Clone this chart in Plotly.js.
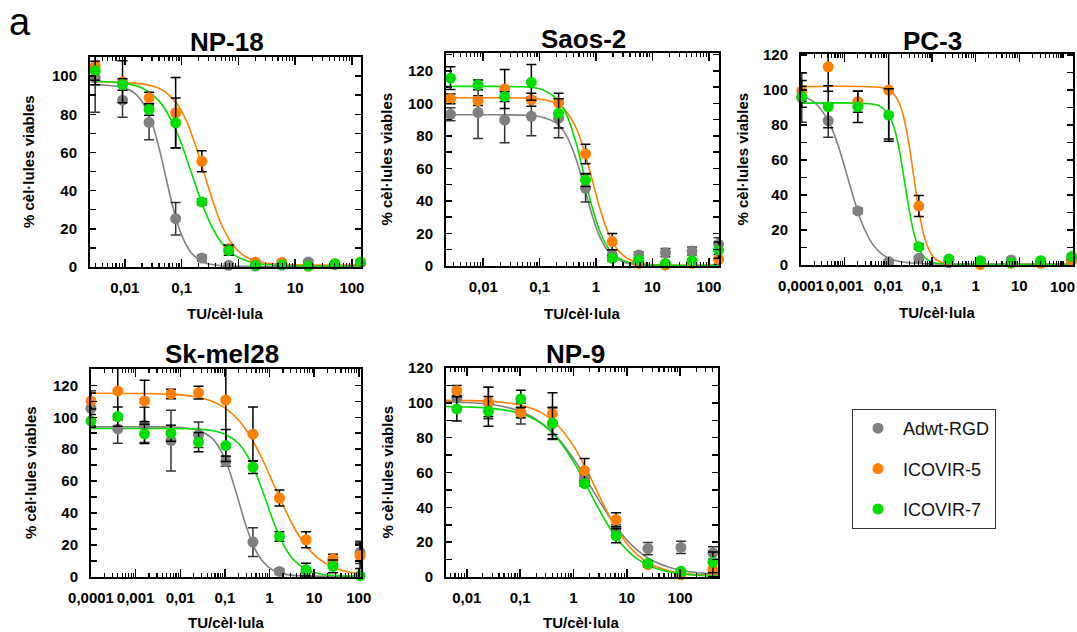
<!DOCTYPE html>
<html><head><meta charset="utf-8">
<script src="https://cdn.plot.ly/plotly-3.0.1.min.js"></script>
<style>html,body{margin:0;padding:0;background:#fff}#chart{width:1077px;height:632px}</style>
</head><body><div id="chart"></div>
<script>
// ---------- DATA ----------
const SERIES = ['Adwt-RGD', 'ICOVIR-5', 'ICOVIR-7'];

// NP-18
const NP18_x = [0.003, 0.0091, 0.0267, 0.0785, 0.227, 0.676, 1.99, 5.83, 17.1, 50.2, 142];
const NP18_gray = [99.1, 87.4, 75.7, 25.3, 4.7, 0.9, 0.5, 1.0, 2.6, 1.2, 2.0];
const NP18_grayErr = [18, 9, 9, 8.5, 1.5, 1, 0.5, 0.5, 1, 0.5, 1];
const NP18_orange = [105.4, 97.0, 88.6, 80.8, 55.4, 9.6, 2.6, 2.4, 0.5, 1.7, 2.3];
const NP18_orangeErr = [10, 11, 3, 18.5, 5.5, 2, 1, 1, 0.5, 0.5, 1];
const NP18_green = [102.8, 95.6, 82.5, 75.5, 34.1, 8.7, 0.9, 1.2, 0.5, 1.7, 2.6];
const NP18_greenErr = [5, 3, 3, 13, 1.5, 2.5, 0.5, 0.5, 0.5, 0.5, 1];
const NP18_fitGrayX = [0.0025, 0.005, 0.01, 0.015, 0.02, 0.03, 0.04, 0.052, 0.07, 0.1, 0.15, 0.25, 0.5, 1, 3, 142];
const NP18_fitGray = [95.5, 95.2, 93.7, 91.0, 86.8, 75.4, 62.4, 47.9, 31.6, 16.7, 7.2, 2.4, 0.7, 0.4, 0.3, 0.3];
const NP18_fitOrangeX = [0.0025, 0.01, 0.03, 0.05, 0.08, 0.12, 0.18, 0.25, 0.35, 0.5, 0.8, 1.2, 2, 4, 10, 142];
const NP18_fitOrange = [97, 96.7, 94.9, 92.0, 86.0, 76.8, 62.8, 49, 34.9, 22.4, 11.5, 6.4, 3.2, 1.65, 1.1, 1.0];
const NP18_fitGreenX = [0.0025, 0.01, 0.02, 0.04, 0.07, 0.1, 0.15, 0.22, 0.33, 0.5, 0.8, 1.3, 2.5, 6, 142];
const NP18_fitGreen = [97.4, 96.2, 93.8, 87.0, 75.3, 64.2, 49, 34.6, 21.9, 12.8, 6.7, 3.5, 1.57, 0.76, 0.5];

// Saos-2
const SAOS_x = [0.00263, 0.0081, 0.024, 0.0713, 0.217, 0.652, 1.94, 5.72, 17.0, 50.4, 149];
const SAOS_gray = [93.3, 94.4, 89.8, 92.1, 90.9, 47.8, 6.8, 6.8, 8.2, 9.2, 13.3];
const SAOS_grayErr = [4, 16, 14, 12, 12, 8.5, 3, 2, 2.5, 2.5, 4];
const SAOS_orange = [102.8, 101.7, 108.9, 102.2, 100.3, 68.9, 15, 1.6, 0.6, 1.6, 4.1];
const SAOS_orangeErr = [3, 3, 12, 4, 6, 6, 5, 1, 1, 1, 3];
const SAOS_green = [115.5, 111.4, 104.2, 113, 93.9, 52.9, 4.7, 3.7, 1.6, 3.3, 9.8];
const SAOS_greenErr = [7, 3, 3, 11, 9, 4, 1.5, 1, 1, 1, 5];
const SAOS_fitGrayX = [0.0022, 0.01, 0.05, 0.1, 0.2, 0.3, 0.45, 0.64, 0.85, 1.2, 1.8, 3, 6, 15, 149];
const SAOS_fitGray = [93, 93, 92.8, 91.9, 87.7, 80.0, 65.1, 46.6, 31.3, 17.0, 7.4, 2.4, 0.6, 0.25, 0.2];
const SAOS_fitOrangeX = [0.0022, 0.01, 0.05, 0.1, 0.2, 0.3, 0.45, 0.65, 0.87, 1.2, 1.7, 2.5, 4, 7, 15, 149];
const SAOS_fitOrange = [103.5, 103.5, 103.3, 102.7, 99.9, 94.9, 84.4, 68.3, 52, 34.2, 19.2, 9.3, 3.8, 1.4, 0.6, 0.5];
const SAOS_fitGreenX = [0.0022, 0.01, 0.05, 0.1, 0.2, 0.3, 0.45, 0.62, 0.85, 1.2, 1.8, 3, 6, 15, 149];
const SAOS_fitGreen = [110.5, 110.5, 110.2, 109.0, 102.9, 93.1, 74.9, 55.5, 36.3, 20.3, 9.2, 3.4, 1.1, 0.5, 0.5];

// PC-3
const PC3_x = [1.04e-4, 4.2e-4, 2.0e-3, 0.0102, 0.050, 0.244, 1.28, 6.5, 31, 159];
const PC3_gray = [95.6, 82.5, 30.9, 1.9, 3.8, 1.3, 1.9, 2.9, 1.9, 2.9];
const PC3_grayErr = [14, 9.5, 1.5, 1, 1, 0.5, 0.5, 1, 0.5, 1];
const PC3_orange = [99.4, 113.3, 93.3, 100, 33.7, 2.5, 0.2, 1, 1, 2.5];
const PC3_orangeErr = [6, 14, 6, 28, 6, 1, 0.5, 0.5, 0.5, 1];
const PC3_green = [96.2, 90.5, 90.5, 85.7, 10.5, 3.4, 2.5, 1.3, 2.5, 4.8];
const PC3_greenErr = [6, 12, 9, 15, 1.5, 1, 1, 0.5, 1, 1.5];
const PC3_fitGrayX = [1.0e-4, 2e-4, 4e-4, 6e-4, 8e-4, 1.18e-3, 1.6e-3, 2.2e-3, 3e-3, 4.5e-3, 7e-3, 0.012, 0.025, 0.06, 0.2, 2, 159];
const PC3_fitGray = [96.9, 93.1, 83.5, 73.5, 64.2, 49.75, 38.4, 27.6, 19.3, 11.5, 6.4, 3.1, 1.4, 0.8, 0.55, 0.5, 0.5];
const PC3_fitOrangeX = [1.0e-4, 0.003, 0.008, 0.012, 0.018, 0.025, 0.032, 0.038, 0.046, 0.056, 0.07, 0.1, 0.15, 0.3, 2, 159];
const PC3_fitOrange = [102, 102, 101.1, 98.9, 92.3, 79.4, 64.0, 51.2, 37.0, 24.5, 14.3, 5.6, 1.9, 0.5, 0.3, 0.3];
const PC3_fitGreenX = [1.0e-4, 0.003, 0.006, 0.01, 0.014, 0.018, 0.024, 0.03, 0.038, 0.05, 0.07, 0.1, 0.2, 2, 159];
const PC3_fitGreen = [92.5, 92.3, 91.1, 86.3, 77.3, 65.1, 46.4, 31.5, 18.8, 9.5, 3.9, 1.56, 0.5, 0.3, 0.3];

// Sk-mel28
const SK_x = [1.0e-4, 3.98e-4, 1.58e-3, 6.2e-3, 0.0257, 0.105, 0.425, 1.67, 6.6, 26.4, 107];
const SK_gray = [105.6, 92.7, 95.2, 85.4, 89, 72.3, 21.9, 3.5, 3.5, 9.8, 15.4];
const SK_grayErr = [11, 9, 11, 19, 8, 3, 9, 1.5, 1, 3, 7];
const SK_orange = [110.2, 116.5, 110.2, 114.6, 115.4, 110.8, 89.4, 49.4, 23.3, 11.3, 13.3];
const SK_orangeErr = [5, 18, 13, 3, 4, 35, 17, 5, 5, 3, 8];
const SK_green = [97.7, 100.4, 89.6, 90, 84.4, 82.3, 68.8, 25.4, 4.6, 6.7, 0.8];
const SK_greenErr = [4, 6, 6, 5, 6, 10, 4, 3, 4, 4, 1];
const SK_fitGrayX = [1.0e-4, 0.003, 0.01, 0.025, 0.05, 0.08, 0.12, 0.205, 0.3, 0.45, 0.7, 1.2, 2.5, 6, 107];
const SK_fitGray = [94, 94, 93.6, 91.9, 87.2, 79.5, 68.2, 47.25, 31.8, 18.8, 9.8, 4.2, 1.5, 0.7, 0.5];
const SK_fitOrangeX = [1.0e-4, 1e-3, 0.005, 0.02, 0.05, 0.1, 0.2, 0.4, 0.7, 1.25, 2, 3.5, 6, 12, 25, 50, 107];
const SK_fitOrange = [115, 114.9, 114.5, 113, 110.2, 105.9, 98.4, 86.5, 73.4, 57.75, 45.1, 31.3, 21.0, 12.0, 6.5, 3.6, 2.0];
const SK_fitGreenX = [1.0e-4, 0.005, 0.02, 0.05, 0.1, 0.2, 0.35, 0.55, 0.86, 1.3, 2, 3.5, 7, 15, 40, 107];
const SK_fitGreen = [93, 93, 92.7, 91.7, 89.4, 83.7, 73.9, 61.7, 46.75, 32.8, 20.8, 10.6, 4.3, 1.75, 0.79, 0.58];

// NP-9
const NP9_x = [0.0065, 0.0254, 0.103, 0.404, 1.61, 6.3, 24.9, 103.5, 412];
const NP9_gray = [102.8, 99.9, 93.8, 88, 56.5, 28.1, 16.3, 17, 13.8];
const NP9_grayErr = [5, 9, 6, 9, 2, 2, 3.5, 3.5, 3.5];
const NP9_orange = [107, 100.5, 94.5, 93.8, 61.1, 32.9, 7.1, 1.3, 4.2];
const NP9_orangeErr = [3, 8.5, 3, 12, 7, 4, 1.5, 1, 4];
const NP9_green = [96.5, 95.1, 102.2, 88.4, 53.6, 23.7, 7.7, 3.3, 8.4];
const NP9_greenErr = [7, 8.6, 5, 9, 1.5, 4, 1.5, 1, 6];
const NP9_fitGrayX = [0.004, 0.01, 0.03, 0.1, 0.25, 0.5, 1, 1.7, 2.2, 4, 6.5, 12, 25, 60, 150, 510];
const NP9_fitGray = [100.7, 100.2, 99.0, 95.1, 88.5, 80.1, 68.0, 56.7, 50.9, 37.8, 28.3, 18.7, 10.9, 5.7, 3.0, 1.55];
const NP9_fitOrangeX = [0.004, 0.01, 0.03, 0.1, 0.25, 0.5, 1, 1.7, 2.6, 4, 6.5, 12, 25, 60, 150, 510];
const NP9_fitOrange = [101.4, 101.3, 100.8, 98.8, 94.4, 87.3, 75.3, 62.6, 51, 39.2, 27.5, 16.4, 8.3, 3.6, 1.66, 0.8];
const NP9_fitGreenX = [0.004, 0.01, 0.03, 0.1, 0.25, 0.5, 1, 1.6, 2, 3, 5, 8, 15, 30, 70, 150, 510];
const NP9_fitGreen = [97.9, 97.6, 96.8, 94.0, 88.1, 79.5, 66.2, 54.9, 49.15, 38.9, 27.3, 18.8, 10.8, 5.7, 2.6, 1.34, 0.6];

// tick labels
const X_TICKS_A = [0.01, 0.1, 1, 10, 100];
const X_LABELS_A = ['0,01', '0,1', '1', '10', '100'];
const X_TICKS_B = [0.0001, 0.001, 0.01, 0.1, 1, 10, 100];
const X_LABELS_B = ['0,0001', '0,001', '0,01', '0,1', '1', '10', '100'];
const Y_TICKS_100 = [0, 20, 40, 60, 80, 100];
const Y_TICKS_120 = [0, 20, 40, 60, 80, 100, 120];

const TITLES = ['NP-18', 'Saos-2', 'PC-3', 'Sk-mel28', 'NP-9'];
const X_TITLE = 'TU/cèl·lula';
const Y_TITLE = '% cèl·lules viables';

// ---------- STYLE / LAYOUT ----------
const W = 1077, H = 632;
const FONT = 'Liberation Sans, Arial, Helvetica, sans-serif';
const COLORS = ['#808080', '#ff8000', '#00dd00'];
const ERRCOL = ['#333333', '#000000', '#000000'];

const panels = [
  {t: TITLES[0], box: [90, 57, 361, 267], xr: [-2.614, 2.16], yr: [0, 110], xt: X_TICKS_A, xl: X_LABELS_A, yt: Y_TICKS_100,
   x: NP18_x, y: [NP18_gray, NP18_orange, NP18_green], e: [NP18_grayErr, NP18_orangeErr, NP18_greenErr],
   fx: [NP18_fitGrayX, NP18_fitOrangeX, NP18_fitGreenX], fy: [NP18_fitGray, NP18_fitOrange, NP18_fitGreen],
   tpos: [227, 42], ypos: 28, xpos: 313},
  {t: TITLES[1], box: [446, 53, 719, 266], xr: [-2.66, 2.18], yr: [0, 131], xt: X_TICKS_A, xl: X_LABELS_A, yt: Y_TICKS_120,
   x: SAOS_x, y: [SAOS_gray, SAOS_orange, SAOS_green], e: [SAOS_grayErr, SAOS_orangeErr, SAOS_greenErr],
   fx: [SAOS_fitGrayX, SAOS_fitOrangeX, SAOS_fitGreenX], fy: [SAOS_fitGray, SAOS_fitOrange, SAOS_fitGreen],
   tpos: [583, 39], ypos: 386, xpos: 313},
  {t: TITLES[2], box: [801, 54, 1073, 265], xr: [-4.0, 2.23], yr: [0, 120.6], xt: X_TICKS_B.slice(0, 6), xl: X_LABELS_B.slice(0, 6), yt: Y_TICKS_120,
   x: PC3_x, y: [PC3_gray, PC3_orange, PC3_green], e: [PC3_grayErr, PC3_orangeErr, PC3_greenErr],
   fx: [PC3_fitGrayX, PC3_fitOrangeX, PC3_fitGreenX], fy: [PC3_fitGray, PC3_fitOrange, PC3_fitGreen],
   tpos: [932, 41], ypos: 742, xpos: 312, extraTick: 6},
  {t: TITLES[3], box: [91, 369, 361, 577], xr: [-4.0, 2.05], yr: [0, 130.2], xt: X_TICKS_B, xl: X_LABELS_B, yt: Y_TICKS_120,
   x: SK_x, y: [SK_gray, SK_orange, SK_green], e: [SK_grayErr, SK_orangeErr, SK_greenErr],
   fx: [SK_fitGrayX, SK_fitOrangeX, SK_fitGreenX], fy: [SK_fitGray, SK_fitOrange, SK_fitGreen],
   tpos: [222, 354], ypos: 30, xpos: 622},
  {t: TITLES[4], box: [446, 368, 718, 577], xr: [-2.39, 2.71], yr: [0, 120], xt: X_TICKS_A, xl: X_LABELS_A, yt: Y_TICKS_120,
   x: NP9_x, y: [NP9_gray, NP9_orange, NP9_green], e: [NP9_grayErr, NP9_orangeErr, NP9_greenErr],
   fx: [NP9_fitGrayX, NP9_fitOrangeX, NP9_fitGreenX], fy: [NP9_fitGray, NP9_fitOrange, NP9_fitGreen],
   tpos: [575, 354], ypos: 387, xpos: 622}
];

const minorLog = [];
for (let d = -5; d <= 3; d++) for (let k = 2; k <= 9; k++) minorLog.push(k * Math.pow(10, d));

const traces = [];
const layout = {
  width: W, height: H, margin: {l: 0, r: 0, t: 0, b: 0},
  paper_bgcolor: '#fff', plot_bgcolor: '#fff',
  font: {family: FONT, color: '#000'},
  showlegend: true,
  legend: {x: 852 / W, y: 1 - 409 / H, xanchor: 'left', yanchor: 'top',
           bordercolor: '#333', borderwidth: 1, bgcolor: '#fff',
           font: {family: FONT, size: 18, color: '#111'},
           itemwidth: 40, tracegroupgap: 14, traceorder: 'grouped'},
  annotations: [], shapes: []
};

const tickFont = {family: FONT, size: 15, weight: 700, color: '#000'};

panels.forEach((p, i) => {
  const n = i + 1;
  const xa = 'x' + (n === 1 ? '' : n), ya = 'y' + (n === 1 ? '' : n);
  const [x0, y0, x1, y1] = p.box;
  layout['xaxis' + (n === 1 ? '' : n)] = {
    type: 'log', domain: [x0 / W, x1 / W], anchor: ya, range: p.xr,
    tickmode: 'array', tickvals: p.xt, ticktext: p.xl, tickangle: 0,
    ticks: 'inside', ticklen: 8, tickwidth: 1.5, tickcolor: '#000',
    showline: true, linewidth: 2, linecolor: '#000', mirror: 'allticks',
    showgrid: false, zeroline: false, ticklabelstandoff: 6, ticklabeloverflow: 'allow',
    tickfont: tickFont,
    minor: {tickmode: 'array', tickvals: minorLog, ticks: 'inside', ticklen: 4, tickwidth: 1.2, tickcolor: '#000', showgrid: false}
  };
  layout['yaxis' + (n === 1 ? '' : n)] = {
    domain: [1 - y1 / H, 1 - y0 / H], anchor: xa, range: p.yr,
    tickmode: 'array', tickvals: p.yt,
    ticks: 'inside', ticklen: 6, tickwidth: 1.5, tickcolor: '#000',
    showline: true, linewidth: 2, linecolor: '#000', mirror: 'allticks',
    showgrid: false, zeroline: false, ticklabelstandoff: 8,
    tickfont: tickFont,
    minor: {tickmode: 'linear', tick0: 0, dtick: 10, ticks: 'inside', ticklen: 6, tickwidth: 1.5, tickcolor: '#000', showgrid: false}
  };
  // last decade label of PC-3 sits at the page edge: drawn as an annotation so it is not dropped
  if (p.extraTick !== undefined) {
    const lx = x0 + (Math.log10(X_TICKS_B[p.extraTick]) - p.xr[0]) / (p.xr[1] - p.xr[0]) * (x1 - x0);
    layout.annotations.push({text: X_LABELS_B[p.extraTick], x: lx / W, y: 1 - (y1 + 21) / H, xref: 'paper', yref: 'paper',
      xanchor: 'center', yanchor: 'middle', showarrow: false, font: tickFont});
    layout['xaxis' + n].minor.tickvals = minorLog.concat([X_TICKS_B[p.extraTick]]);
  }
  // fitted curves
  for (let s = 0; s < 3; s++) {
    traces.push({x: p.fx[s], y: p.fy[s], xaxis: xa, yaxis: ya, type: 'scatter', mode: 'lines',
      line: {color: COLORS[s], width: 1.6, shape: 'spline', smoothing: 0.9}, showlegend: false, hoverinfo: 'skip'});
  }
  // points with error bars
  for (let s = 0; s < 3; s++) {
    traces.push({x: p.x, y: p.y[s], xaxis: xa, yaxis: ya, type: 'scatter', mode: 'markers',
      name: SERIES[s], legendgroup: 'g' + s, showlegend: i === 0,
      marker: {color: COLORS[s], size: 11},
      error_y: {type: 'data', array: p.e[s], visible: true, color: ERRCOL[s], thickness: 1.5, width: 5},
      cliponaxis: false});
  }
  // titles
  layout.annotations.push({text: p.t, x: p.tpos[0] / W, y: 1 - p.tpos[1] / H, xref: 'paper', yref: 'paper',
    xanchor: 'center', yanchor: 'middle', showarrow: false, font: {family: FONT, size: 26, weight: 700, color: '#000'}});
  layout.annotations.push({text: Y_TITLE, x: p.ypos / W, y: 1 - ((y0 + y1) / 2) / H, xref: 'paper', yref: 'paper',
    xanchor: 'center', yanchor: 'middle', textangle: -90, showarrow: false, font: {family: FONT, size: 15, weight: 700, color: '#000'}});
  layout.annotations.push({text: X_TITLE, x: ((x0 + x1) / 2) / W, y: 1 - p.xpos / H, xref: 'paper', yref: 'paper',
    xanchor: 'center', yanchor: 'middle', showarrow: false, font: {family: FONT, size: 15, weight: 700, color: '#000'}});
});

layout.annotations.push({text: 'a', x: 20 / W, y: 1 - 22 / H, xref: 'paper', yref: 'paper',
  xanchor: 'center', yanchor: 'middle', showarrow: false, font: {family: FONT, size: 38, color: '#000'}});

Plotly.newPlot('chart', traces, layout, {displayModeBar: false, staticPlot: true});
</script></body></html>
